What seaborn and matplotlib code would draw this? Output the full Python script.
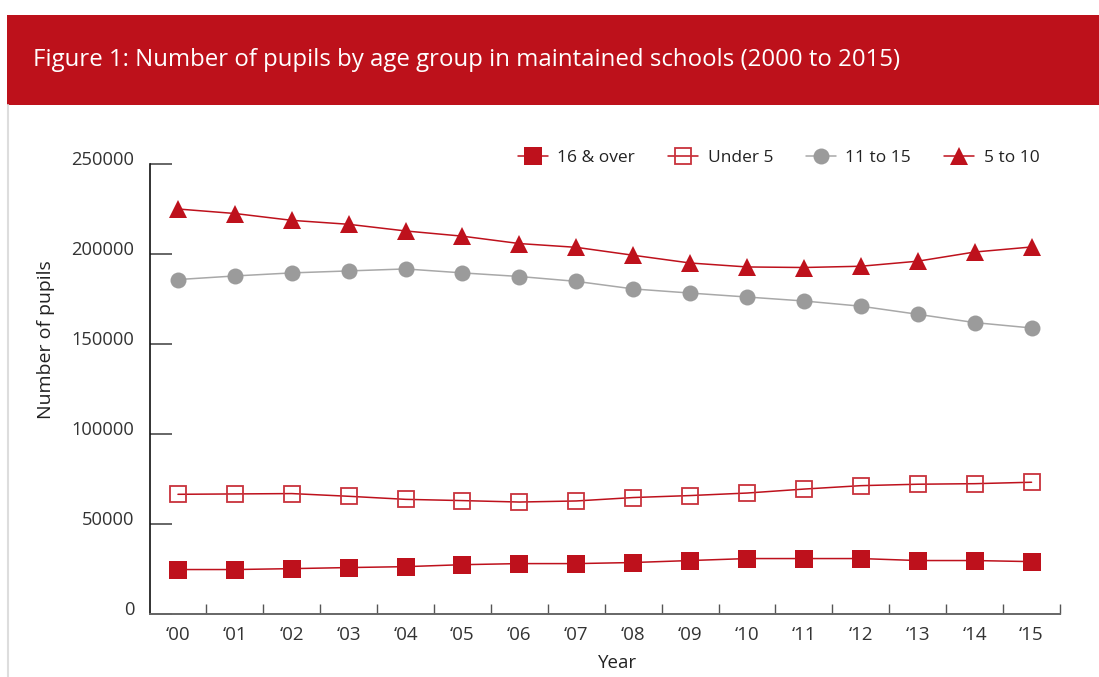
import pandas as pd
import matplotlib
matplotlib.use('Agg')
import matplotlib.pyplot as plt
import matplotlib.transforms as mtrans
from matplotlib.patches import Rectangle
from matplotlib.lines import Line2D
import seaborn as sns
import numpy as np

# data
years = ['\u201800', '\u201801', '\u201802', '\u201803', '\u201804', '\u201805', '\u201806', '\u201807',
         '\u201808', '\u201809', '\u201810', '\u201811', '\u201812', '\u201813', '\u201814', '\u201815']
age_5_10 = [225000, 222500, 218700, 216500, 212800, 209900, 205800, 203700,
            199300, 195000, 192800, 192500, 193200, 196000, 201100, 203900]
age_11_15 = [185800, 187800, 189500, 190600, 191700, 189500, 187500, 184800,
             180600, 178300, 176100, 173900, 171000, 166500, 161900, 158900]
under_5 = [66500, 66700, 66900, 65400, 63700, 63000, 62200, 62800,
           64700, 65800, 67200, 69400, 71300, 72100, 72400, 73200]
age_16_over = [24700, 24700, 25200, 25800, 26300, 27400, 28000, 28000,
               28600, 29700, 30800, 30800, 30800, 29700, 29700, 29100]
y_ticks = [0, 50000, 100000, 150000, 200000, 250000]

red = '#BE111C'
grey = '#9B9B9B'

sns.set_style('white')
plt.rcParams['font.family'] = ['Open Sans', 'DejaVu Sans']

fig = plt.figure(figsize=(10.99, 6.77), dpi=100)
ax = fig.add_axes([149.5 / 1099, 63 / 677, (1060 - 149.5) / 1099, 450 / 677])

x = np.arange(len(years))
df = pd.DataFrame({'x': x, '5 to 10': age_5_10, '11 to 15': age_11_15,
                   'Under 5': under_5, '16 & over': age_16_over})

sns.lineplot(data=df, x='x', y='5 to 10', ax=ax, color=red, lw=1.1,
             marker='^', markersize=13, markeredgewidth=0, markerfacecolor=red)
sns.lineplot(data=df, x='x', y='11 to 15', ax=ax, color='#A8A8A8', lw=1.1,
             marker='o', markersize=11.5, markeredgewidth=0, markerfacecolor=grey)
sns.lineplot(data=df, x='x', y='Under 5', ax=ax, color=red, lw=1.1,
             marker='s', markersize=12, markeredgewidth=1.3,
             markerfacecolor='none', markeredgecolor='#C8323C')
sns.lineplot(data=df, x='x', y='16 & over', ax=ax, color=red, lw=1.1,
             marker='s', markersize=12.5, markeredgewidth=0, markerfacecolor=red)

ax.set_xlim(-0.5, 15.5)
ax.set_ylim(0, 250000)

ax.set_xticks(x)
ax.set_xticklabels(years)
ax.set_xticks(np.arange(0.5, 16, 1), minor=True)
ax.tick_params(axis='x', which='major', bottom=True, length=0, pad=9, labelsize=13.5, labelcolor='#333333')
ax.tick_params(axis='x', which='minor', bottom=True, direction='in', length=7.5, width=1, color='#555555')

ax.set_yticks(y_ticks)
ax.set_yticklabels([str(v) for v in y_ticks])
ax.tick_params(axis='y', left=True, direction='in', length=16, width=1.4, color='#666666',
               pad=11, labelsize=13.2, labelcolor='#333333')
for lab in ax.get_yticklabels():
    lab.set_transform(lab.get_transform() + mtrans.ScaledTranslation(0, 6 / 100, fig.dpi_scale_trans))

for s in ['top', 'right']:
    ax.spines[s].set_visible(False)
ax.spines['left'].set_color('#111111')
ax.spines['left'].set_linewidth(1.2)
ax.spines['bottom'].set_color('#666666')
ax.spines['bottom'].set_linewidth(1.4)

ax.set_xlabel('Year', fontsize=13.5, color='#222222')
ax.set_ylabel('Number of pupils', fontsize=14, color='#222222')
ax.yaxis.set_label_coords(-0.104, 0.61)
ax.xaxis.set_label_coords(0.514, -0.09)

# legend
handles = [
    Line2D([], [], color=red, lw=1.1, marker='s', markersize=12.5, markeredgewidth=0, markerfacecolor=red),
    Line2D([], [], color=red, lw=1.1, marker='s', markersize=12, markeredgewidth=1.3,
           markerfacecolor='none', markeredgecolor='#C8323C'),
    Line2D([], [], color='#A8A8A8', lw=1.1, marker='o', markersize=11.5, markeredgewidth=0, markerfacecolor=grey),
    Line2D([], [], color=red, lw=1.1, marker='^', markersize=13, markeredgewidth=0, markerfacecolor=red),
]
labels = ['16 & over', 'Under 5', '11 to 15', '5 to 10']
fig.legend(handles, labels, loc='center right', bbox_to_anchor=(1055 / 1099, 1 - 158 / 677),
           ncol=4, frameon=False, fontsize=12.5, handlelength=1.7, handletextpad=0.57,
           columnspacing=1.9, labelcolor='#222222')

# red title banner and frame line
fig.patches.append(Rectangle((7 / 1099, 1 - 105 / 677), 1, 90 / 677, transform=fig.transFigure,
                             facecolor='#BD111B', edgecolor='none'))
fig.lines.append(Line2D([7.5 / 1099, 7.5 / 1099], [0, 1 - 105 / 677], transform=fig.transFigure,
                        color='#DDDDDD', lw=1.5))
fig.text(33 / 1099, 1 - 60 / 677, 'Figure 1: Number of pupils by age group in maintained schools (2000 to 2015)',
         color='white', fontsize=17.3, va='center', ha='left')

plt.savefig('out.png', dpi=100)
